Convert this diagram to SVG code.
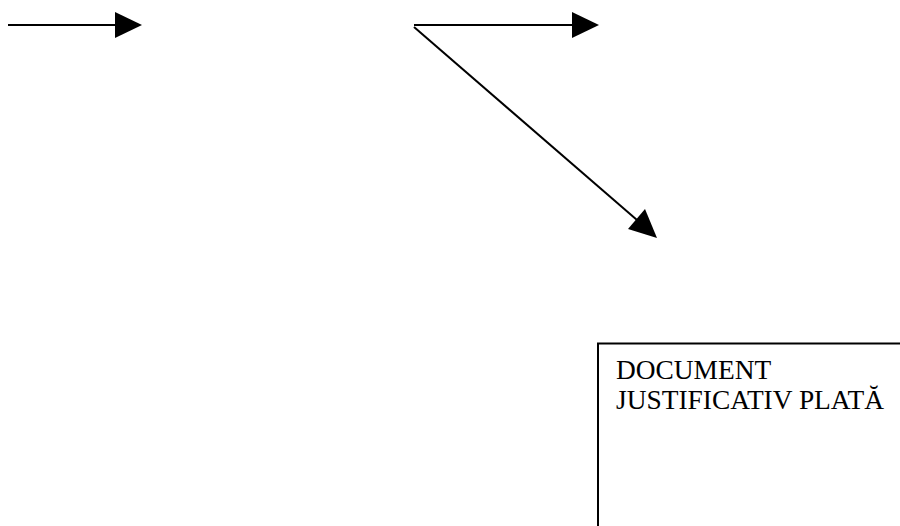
<svg xmlns="http://www.w3.org/2000/svg" width="900" height="526" viewBox="0 0 900 526">
<style>
.ln{stroke:#000;stroke-width:2;fill:none}
.hd{fill:#000;stroke:none}
.box{fill:#fff;stroke:#000;stroke-width:2}
.t{font-family:"Liberation Serif","Times New Roman",serif;font-size:27.4px;fill:#000}
</style>
<rect width="900" height="526" fill="#fff"/>
<g id="connectors">
<line class="ln" x1="8" y1="25" x2="116" y2="25"/>
<polygon class="hd" points="115,12 142,25 115,38"/>
<line class="ln" x1="414" y1="25" x2="573" y2="25"/>
<polygon class="hd" points="572,12 599,25 572,38"/>
<line class="ln" x1="414" y1="27" x2="637" y2="220"/>
<polygon class="hd" points="628,229 645,209 657,238"/>
</g>
<g id="node-document">
<rect class="box" x="598" y="343.5" width="320" height="200"/>
<text class="t" x="616" y="379">DOCUMENT</text>
<text class="t" x="616" y="409">JUSTIFICATIV PLATĂ</text>
</g>
</svg>
